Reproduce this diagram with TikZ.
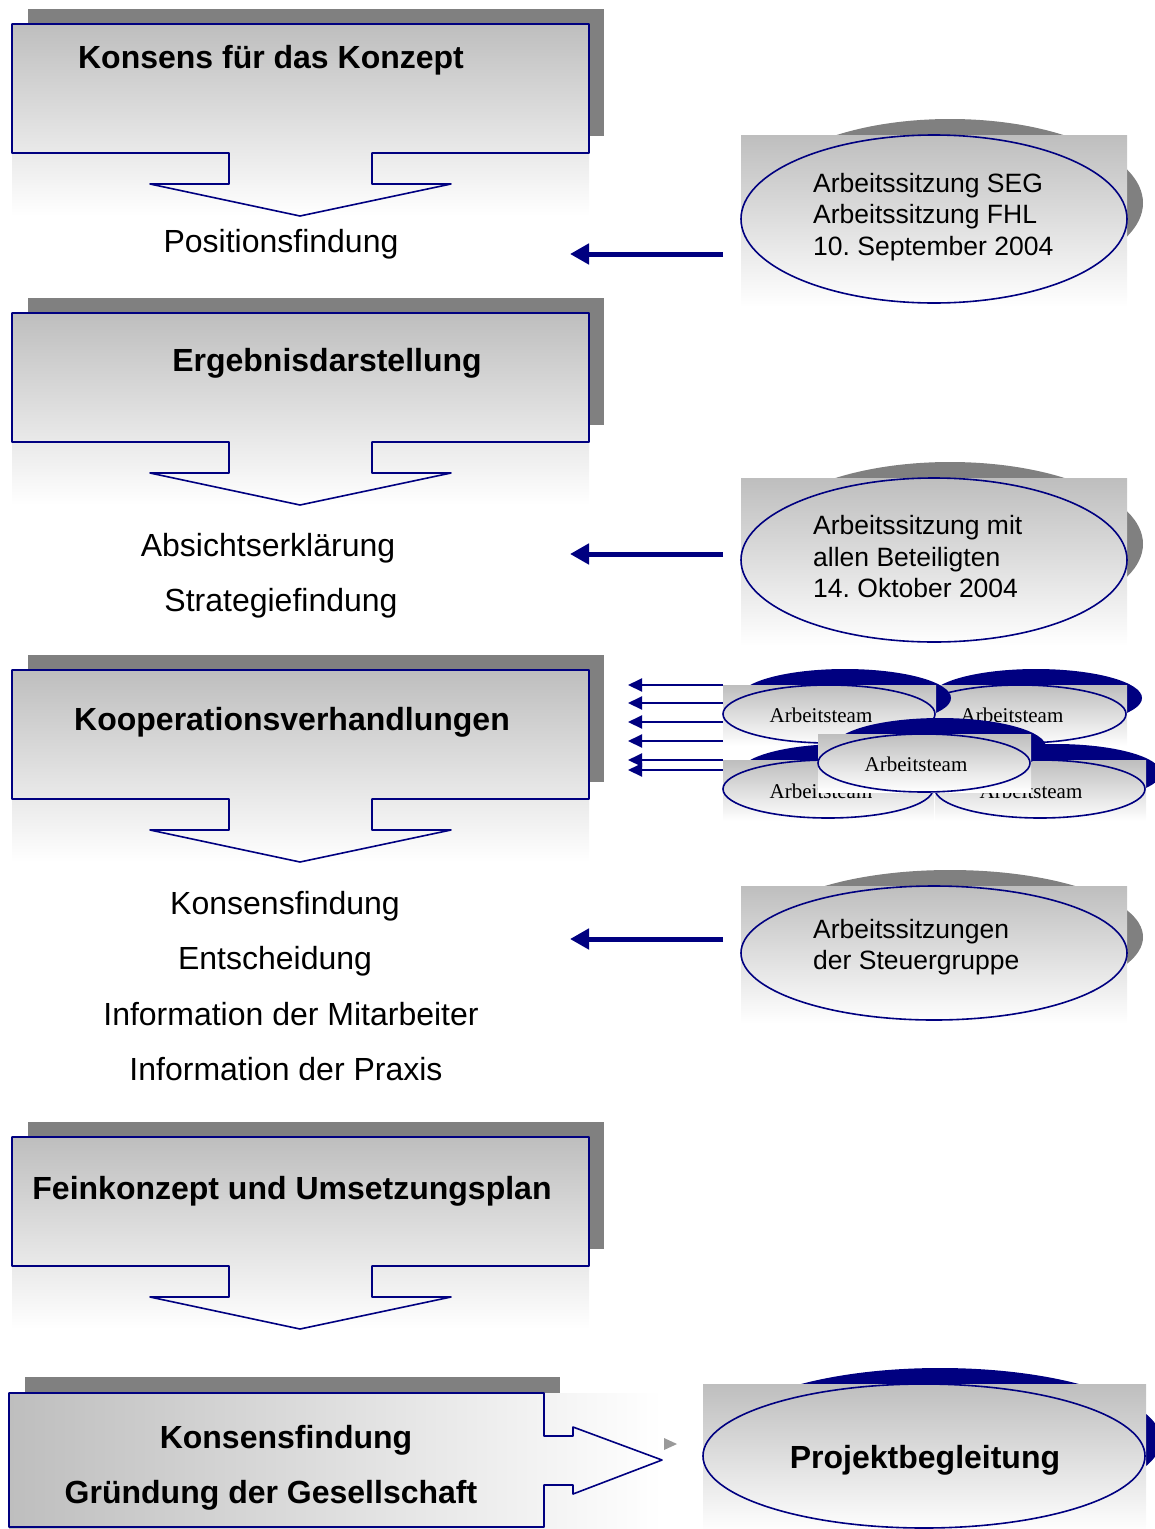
\documentclass[tikz,border=0pt]{standalone}
\usepackage{fontspec}
\setmainfont{Liberation Sans}
\newfontfamily\teamfont{Liberation Serif}
\usetikzlibrary{arrows.meta}
\frenchspacing

\definecolor{navy}{RGB}{0,0,128}
\definecolor{shadowgray}{RGB}{128,128,128}
\definecolor{fillgray}{RGB}{190,190,190}

\tikzset{
  outline/.style={draw=navy, line width=1.6pt, line join=round},
  title/.style={font=\fontsize{32}{38}\selectfont\bfseries, inner sep=0pt},
  label/.style={font=\fontsize{32}{38}\selectfont, inner sep=0pt},
  note/.style={font=\fontsize{26.5}{31.5}\selectfont, align=left, inner sep=0pt, anchor=west},
  team/.style={font=\teamfont\fontsize{21}{25}\selectfont, inner sep=0pt},
  bigarrow/.style={draw=navy, line width=5pt, -{Triangle[length=19pt,width=20pt]}},
  smallarrow/.style={draw=navy, line width=2pt, -{Triangle[length=14pt,width=13pt]}},
}

% phase box with a downward arrow; #1 = top edge
\newcommand\downcallout[1]{%
  \fill[shadowgray] (28,#1-15) rectangle (604,#1+112);
  \shade[top color=fillgray, bottom color=white] (12,#1) rectangle (589,#1+192);
  \draw[outline] (12,#1) -- (589,#1) -- (589,#1+129) -- (372,#1+129) -- (372,#1+160)
    -- (451,#1+160) -- (300,#1+192) -- (150,#1+160) -- (229,#1+160) -- (229,#1+129)
    -- (12,#1+129) -- cycle;
}

% meeting ellipse: #1 = centre x, #2 = centre y, #3 = x radius, #4 = y radius,
% #5 = shadow colour, #6/#7 = left/right edge of the shaded frame, #8 = frame overhang below
\newcommand\meetellipse[8]{%
  \fill[#5] (#1+16,#2-16) ellipse [x radius=#3, y radius=#4];
  \shade[top color=fillgray, bottom color=white] (#6,#2-#4) rectangle (#7,#2+#4+#8);
  \draw[outline] (#1,#2) ellipse [x radius=#3, y radius=#4];
}

\begin{document}
\begin{tikzpicture}[x=1pt,y=-1pt]
\useasboundingbox (0,0) rectangle (1155,1529);

% ---------- phase boxes ----------
\downcallout{24}
\node[title] (p1) at (271,60) {Konsens für das Konzept};
\node[label] (t1) at (281,244) {Positionsfindung};

\downcallout{313}
\node[title] (p2) at (327,363) {Ergebnisdarstellung};
\node[label] (t2) at (268,548) {Absichtserklärung};
\node[label] (t3) at (281,603) {Strategiefindung};

\downcallout{670}
\node[title] (p3) at (292,722) {Kooperationsverhandlungen};
\node[label] (t4) at (285,906) {Konsensfindung};
\node[label] (t5) at (275,961) {Entscheidung};
\node[label] (t6) at (291,1014) {Information der Mitarbeiter};
\node[label] (t7) at (286,1069) {Information der Praxis};

\downcallout{1137}
\node[title] (p4) at (292,1191) {Feinkonzept und Umsetzungsplan};

% final box with arrow to the right
\fill[shadowgray] (25,1377) rectangle (560,1512);
\shade[left color=fillgray, right color=white] (9,1393) rectangle (662,1528);
\draw[outline] (9,1393) -- (544,1393) -- (544,1436) -- (573,1436) -- (573,1427)
  -- (662,1460) -- (573,1494) -- (573,1485) -- (544,1485) -- (544,1527) -- (9,1527) -- cycle;
\node[title] (p5a) at (286,1440) {Konsensfindung};
\node[title] (p5b) at (271,1495) {Gründung der Gesellschaft};
\fill[shadowgray!80] (664,1438) -- (677,1444) -- (664,1450) -- cycle;

% ---------- meetings ----------
\meetellipse{934}{219}{193}{84}{shadowgray}{741}{1127}{4}
\node[note] (m1) at (813,217) {Arbeitssitzung SEG\\Arbeitssitzung FHL\\10. September 2004};
\coordinate (m1tail) at (723,254);
\coordinate (m1head) at (570,254);
\draw[bigarrow] (m1tail) -- (m1head);

\meetellipse{934}{560}{193}{82}{shadowgray}{741}{1127}{4}
\node[note] (m2) at (813,557) {Arbeitssitzung mit\\allen Beteiligten\\14. Oktober 2004};
\coordinate (m2tail) at (723,554);
\coordinate (m2head) at (570,554);
\draw[bigarrow] (m2tail) -- (m2head);

\meetellipse{934}{953}{193}{67}{shadowgray}{741}{1127}{4}
\node[note] (m3) at (813,947) {Arbeitssitzungen\\der Steuergruppe};
\coordinate (m3tail) at (723,939);
\coordinate (m3head) at (570,939);
\draw[bigarrow] (m3tail) -- (m3head);

% ---------- working teams ----------
\meetellipse{1020}{714}{106}{29}{navy}{914}{1127}{3}
\node[team] (a2) at (1012,715) {Arbeitsteam};
\meetellipse{829}{714}{106}{29}{navy}{723}{936}{3}
\node[team] (a1) at (821,715) {Arbeitsteam};
\meetellipse{828}{789}{105}{29}{navy}{723}{934}{3}
\node[team] (a3) at (821,791) {Arbeitsteam};
\meetellipse{1040}{789}{105}{29}{navy}{935}{1146}{3}
\node[team] (a4) at (1031,791) {Arbeitsteam};
\meetellipse{924}{763}{106}{29}{navy}{818}{1031}{0}
\node[team] (a5) at (916,764) {Arbeitsteam};

\foreach \yy [count=\i] in {685,703,722,741,760,770} {
  \coordinate (s\i tail) at (723,\yy);
  \coordinate (s\i head) at (628,\yy);
  \draw[smallarrow] (s\i tail) -- (s\i head);
}

% ---------- project support ----------
\meetellipse{924}{1456}{221}{72}{navy}{703}{1146}{4}
\node[title] (pb) at (925,1460) {Projektbegleitung};

\end{tikzpicture}
\end{document}
